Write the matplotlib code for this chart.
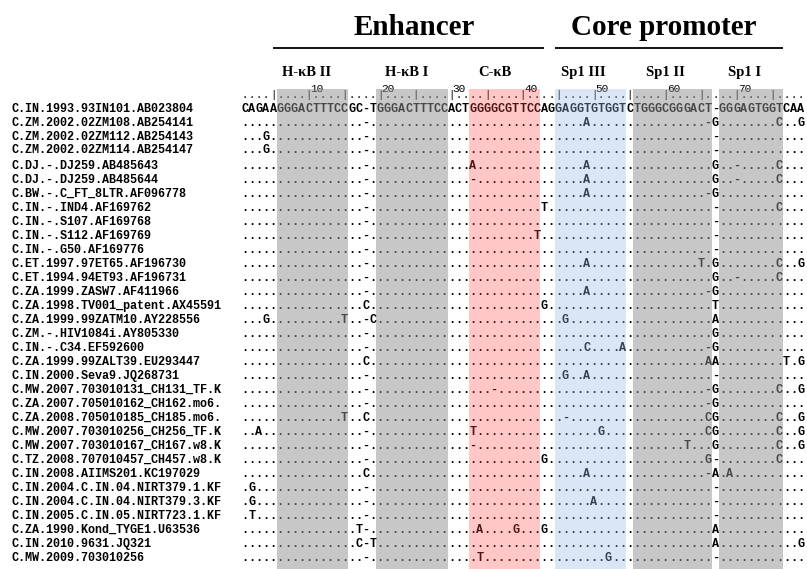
import matplotlib
matplotlib.use("Agg")
import matplotlib.pyplot as plt
from matplotlib.patches import Rectangle

reference = "CAGAAGGGACTTTCCGC-TGGGACTTTCCACTGGGGCGTTCCAGGAGGTGTGGTCTGGGCGGGACT-GGGAGTGGTCAA"

names = [
    "C.IN.1993.93IN101.AB023804",
    "C.ZM.2002.02ZM108.AB254141",
    "C.ZM.2002.02ZM112.AB254143",
    "C.ZM.2002.02ZM114.AB254147",
    "C.DJ.-.DJ259.AB485643",
    "C.DJ.-.DJ259.AB485644",
    "C.BW.-.C_FT_8LTR.AF096778",
    "C.IN.-.IND4.AF169762",
    "C.IN.-.S107.AF169768",
    "C.IN.-.S112.AF169769",
    "C.IN.-.G50.AF169776",
    "C.ET.1997.97ET65.AF196730",
    "C.ET.1994.94ET93.AF196731",
    "C.ZA.1999.ZASW7.AF411966",
    "C.ZA.1998.TV001_patent.AX45591",
    "C.ZA.1999.99ZATM10.AY228556",
    "C.ZM.-.HIV1084i.AY805330",
    "C.IN.-.C34.EF592600",
    "C.ZA.1999.99ZALT39.EU293447",
    "C.IN.2000.Seva9.JQ268731",
    "C.MW.2007.703010131_CH131_TF.K",
    "C.ZA.2007.705010162_CH162.mo6.",
    "C.ZA.2008.705010185_CH185.mo6.",
    "C.MW.2007.703010256_CH256_TF.K",
    "C.MW.2007.703010167_CH167.w8.K",
    "C.TZ.2008.707010457_CH457.w8.K",
    "C.IN.2008.AIIMS201.KC197029",
    "C.IN.2004.C.IN.04.NIRT379.1.KF",
    "C.IN.2004.C.IN.04.NIRT379.3.KF",
    "C.IN.2005.C.IN.05.NIRT723.1.KF",
    "C.ZA.1990.Kond_TYGE1.U63536",
    "C.IN.2010.9631.JQ321",
    "C.MW.2009.703010256",
]

# what each sequence shows where it is not a dot, as column+char (columns from 1)
# first row is the reference and is written out in full
differences = [
    None,
    "18- 49A 66- 67G 76C 79G",
    "4G 18- 67-",
    "4G 18- 67-",
    "18- 33A 49A 67G 70- 76C",
    "18- 33- 49A 67G 70- 76C",
    "18- 49A 66- 67G",
    "18- 43T 67- 76C",
    "18- 67-",
    "18- 42T 67-",
    "18- 67-",
    "18- 49A 65T 67G 76C 79G",
    "18- 67G 70- 76C",
    "18- 49A 66- 67G",
    "18C 43G 67T",
    "4G 15T 18- 19C 46G 67A",
    "18- 67G",
    "18- 49C 54A 66- 67G",
    "18C 66A 67A 77T 79G",
    "18- 46G 49A 67-",
    "18- 36- 66- 67G 76C 79G",
    "18- 66- 67G",
    "15T 18C 46- 66C 67G 76C 79G",
    "3A 18- 33T 51G 66C 67G 76C 79G",
    "18- 33- 63T 67G 76C 79G",
    "18- 43G 66G 67- 76C",
    "18C 49A 66- 67A 69A",
    "2G 18- 67-",
    "2G 18- 50A 67-",
    "2T 18- 67-",
    "17T 18- 34A 39G 43G 67A",
    "17C 18- 19T 67A 79G",
    "18- 34T 52G 67-",
]

sites = ["H-\u03baB II", "H-\u03baB I", "C-\u03baB", "Sp1 III", "Sp1 II", "Sp1 I"]
site_start = [6, 20, 33, 45, 56, 68]
site_end = [15, 29, 42, 54, 66, 76]
site_colors = [("#919191", 0.5), ("#919191", 0.5), ("#ff4848", 0.3),
               ("#95b8e2", 0.35), ("#919191", 0.5), ("#919191", 0.5)]

ruler_labels = ["10", "20", "30", "40", "50", "60", "70"]
ruler_label_cols = [10, 20, 30, 40, 50, 60, 70]


def build_row(diff):
    if diff is None:
        return reference
    row = ["."] * len(reference)
    for item in diff.split():
        row[int(item[:-1]) - 1] = item[-1]
    return "".join(row)


rows = [build_row(d) for d in differences]

W, H = 807, 569
fig = plt.figure(figsize=(W / 100, H / 100), dpi=100)
ax = fig.add_axes([0, 0, 1, 1])
ax.set_xlim(0, W)
ax.set_ylim(H, 0)
ax.axis("off")

x0, cw = 241.0, 7.13


def cx(c):
    return x0 + (c - 0.5) * cw


def row_y(i):
    return 109 + 13.8 * i if i < 4 else 166 + 14.0 * (i - 4)


mono = dict(family="Liberation Mono", fontweight="bold", fontsize=8.5)

for i, (name, seq) in enumerate(zip(names, rows)):
    y = row_y(i)
    ax.text(12, y, name, ha="left", va="center", **mono)
    for c, ch in enumerate(seq, start=1):
        ax.text(cx(c), y, ch, ha="center", va="center", **mono)

# ruler
ry = 95
for c in range(1, len(reference) + 1):
    ax.text(cx(c), ry, "|" if c % 5 == 0 else ".", ha="center", va="center",
            family="Liberation Mono", fontsize=7.5)
for lab, c in zip(ruler_labels, ruler_label_cols):
    ax.text(cx(c) + cw * 0.2, ry - 6, lab, ha="left", va="center",
            family="Liberation Mono", fontsize=8)

# shaded sites, laid over the letters
for s, e, (col, a) in zip(site_start, site_end, site_colors):
    ax.add_patch(Rectangle((x0 + (s - 1) * cw, 89), (e - s + 1) * cw, H - 89,
                           facecolor=col, alpha=a, edgecolor="none", zorder=5))

serif = "Liberation Serif"
label_x = [307, 407, 495, 583, 665, 745]
for lab, x in zip(sites, label_x):
    ax.text(x, 72, lab, ha="center", va="center", family=serif,
            fontweight="bold", fontsize=10.5)

ax.text(414, 27, "Enhancer", ha="center", va="center", family=serif,
        fontweight="bold", fontsize=21)
ax.text(664, 27, "Core promoter", ha="center", va="center", family=serif,
        fontweight="bold", fontsize=21)
ax.plot([273, 544], [48, 48], color="black", lw=1.3, solid_capstyle="butt")
ax.plot([555, 783], [48, 48], color="black", lw=1.3, solid_capstyle="butt")

fig.savefig("out.png", dpi=100)
